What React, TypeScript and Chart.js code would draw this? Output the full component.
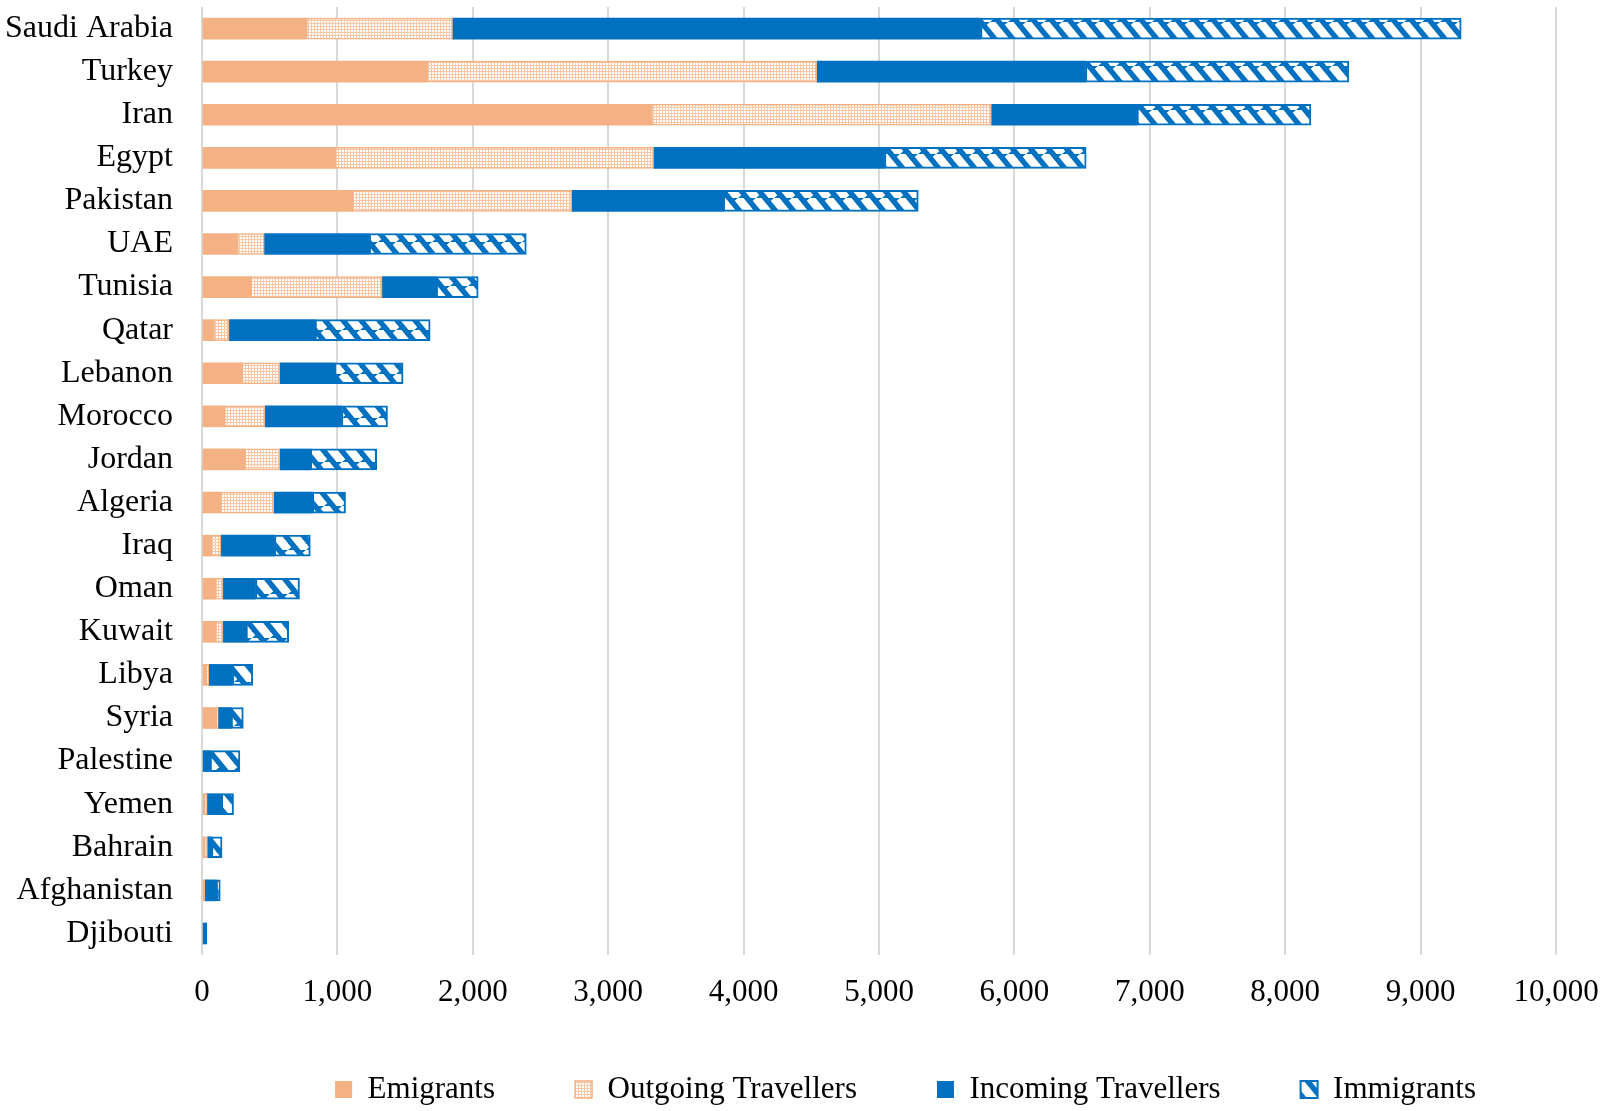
import { useEffect, useRef } from 'react';
import { Chart, registerables } from 'chart.js';

Chart.register(...registerables);

const categories = [
  'Saudi Arabia', 'Turkey', 'Iran', 'Egypt', 'Pakistan', 'UAE', 'Tunisia', 'Qatar',
  'Lebanon', 'Morocco', 'Jordan', 'Algeria', 'Iraq', 'Oman', 'Kuwait', 'Libya',
  'Syria', 'Palestine', 'Yemen', 'Bahrain', 'Afghanistan', 'Djibouti',
];
const emigrants = [770, 1660, 3320, 985, 1110, 260, 360, 85, 295, 165, 315, 135, 65, 100, 100, 30, 110, 0, 20, 18, 20, 0];
const outgoingTravellers = [1080, 2880, 2510, 2350, 1620, 200, 970, 115, 280, 300, 260, 395, 75, 55, 55, 20, 10, 0, 18, 22, 0, 0];
const incomingTravellers = [3900, 1985, 1075, 1705, 1120, 775, 400, 635, 405, 565, 225, 285, 395, 240, 170, 175, 95, 60, 105, 30, 85, 35];
const immigrants = [3550, 1945, 1285, 1490, 1440, 1160, 310, 850, 505, 340, 490, 245, 265, 325, 315, 150, 90, 220, 90, 78, 30, 0];

const X_MIN = 0;
const X_MAX = 10000;
const X_STEP = 1000;

const ORANGE = '#F4B183';
const BLUE = '#0070C0';
const FAMILY = '"Liberation Serif", "Times New Roman", serif';
const PAD_BOTTOM = -4;

function makeDots(): CanvasPattern | string {
  const c = document.createElement('canvas');
  c.width = 3;
  c.height = 3;
  const ctx = c.getContext('2d');
  if (!ctx) return ORANGE;
  ctx.fillStyle = '#F7C7A6';
  ctx.fillRect(0, 0, 3, 3);
  ctx.fillStyle = '#ffffff';
  ctx.fillRect(0, 0, 2, 2);
  return ctx.createPattern(c, 'repeat') || ORANGE;
}

function makeStripes(): CanvasPattern | string {
  const w = 18;
  const h = 22;
  const c = document.createElement('canvas');
  c.width = w;
  c.height = h;
  const ctx = c.getContext('2d');
  if (!ctx) return BLUE;
  ctx.fillStyle = BLUE;
  ctx.fillRect(0, 0, w, h);
  ctx.strokeStyle = '#ffffff';
  ctx.lineWidth = 8.5;
  for (let k = -2; k <= 2; k++) {
    ctx.beginPath();
    ctx.moveTo(k * w, 0);
    ctx.lineTo(k * w + w, h);
    ctx.stroke();
  }
  return ctx.createPattern(c, 'repeat') || BLUE;
}

export default function App() {
  const ref = useRef<HTMLCanvasElement>(null);

  useEffect(() => {
    document.body.style.margin = '0';
    const canvas = ref.current;
    if (!canvas) return;
    const chart = new Chart(canvas, {
      type: 'bar',
      data: {
        labels: categories,
        datasets: [
          { label: 'Emigrants', data: emigrants, backgroundColor: ORANGE, borderWidth: 0 },
          { label: 'Outgoing Travellers', data: outgoingTravellers, backgroundColor: makeDots() as any, borderColor: ORANGE, borderWidth: 1.5, borderSkipped: false },
          { label: 'Incoming Travellers', data: incomingTravellers, backgroundColor: BLUE, borderWidth: 0 },
          { label: 'Immigrants', data: immigrants, backgroundColor: makeStripes() as any, borderColor: BLUE, borderWidth: 2, borderSkipped: false },
        ],
      },
      options: {
        indexAxis: 'y',
        responsive: false,
        animation: false,
        layout: { padding: { top: 7, right: 47, left: 0, bottom: PAD_BOTTOM } },
        datasets: { bar: { barThickness: 21 } },
        scales: {
          x: {
            stacked: true,
            min: X_MIN,
            max: X_MAX,
            ticks: { stepSize: X_STEP, padding: 19, font: { family: FAMILY, size: 31 }, color: '#000' },
            grid: { color: '#d9d9d9', lineWidth: 2, drawTicks: false },
            border: { display: false },
            afterFit: (s: any) => {
              const lh = s.chart.legend ? s.chart.legend.height : 0;
              s.height = s.chart.height - PAD_BOTTOM - lh - 955;
              s.paddingLeft = 0;
              s.paddingRight = 0;
              s._computeLabelArea = () => undefined;
            },
          },
          y: {
            stacked: true,
            grid: { display: false, drawTicks: false },
            border: { display: false },
            ticks: { padding: 29, font: { family: FAMILY, size: 32 }, color: '#000', autoSkip: false },
            afterFit: (s: any) => {
              s.width = 202;
              s.paddingTop = 0;
              s.paddingBottom = 0;
            },
          },
        },
        plugins: {
          legend: {
            position: 'bottom',
            align: 'end',
            labels: { boxWidth: 17, boxHeight: 17, padding: 80, font: { family: FAMILY, size: 31 }, color: '#000' },
          },
          tooltip: { enabled: false },
        },
      } as any,
    });
    return () => chart.destroy();
  }, []);

  return <canvas ref={ref} width={1603} height={1111} style={{ display: 'block' }} />;
}
